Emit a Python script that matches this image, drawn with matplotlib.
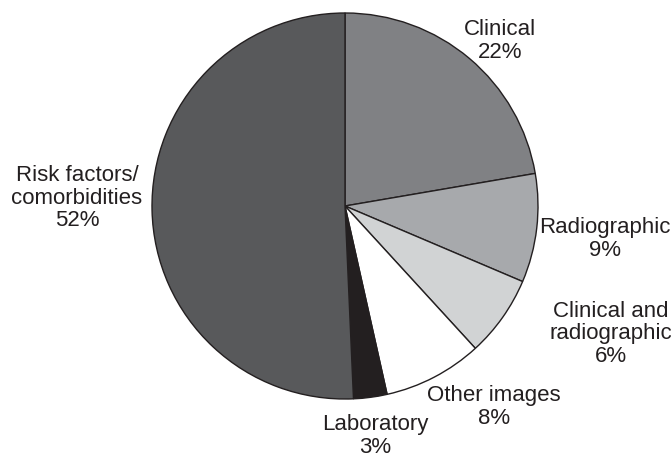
import matplotlib
matplotlib.use("Agg")
import matplotlib.pyplot as plt

# slice shares as drawn, clockwise from 12 o'clock
categories = ["Clinical", "Radiographic", "Clinical and\nradiographic",
              "Other images", "Laboratory", "Risk factors/\ncomorbidities"]
shares = [22.3, 9.1, 6.8, 8.3, 2.8, 50.7]
pct_labels = [22, 9, 6, 8, 3, 52]
colors = ["#808184", "#a7a9ac", "#d1d3d4", "#ffffff", "#231f20", "#58595b"]

# label centres in pixel coords (x from left, y from top)
label_pos = [(500, 41), (605, 239), (611, 334), (494, 407), (375, 436), (77, 198)]

W, H = 671, 455
fig = plt.figure(figsize=(W / 100, H / 100), dpi=100)
ax = fig.add_axes([0, 0, 1, 1])
ax.set_xlim(0, W)
ax.set_ylim(0, H)
ax.set_aspect("equal")
ax.axis("off")

ax.pie(shares, colors=colors, startangle=90, counterclock=False,
       center=(345, H - 206), radius=193, frame=True,
       wedgeprops=dict(edgecolor="#231f20", linewidth=1.0))
ax.set_xlim(0, W)
ax.set_ylim(0, H)
ax.axis("off")

for cat, pct, (x, y) in zip(categories, pct_labels, label_pos):
    ax.text(x, H - y, f"{cat}\n{pct}%", ha="center", va="center",
            multialignment="center", fontsize=16, linespacing=1.08,
            family="Liberation Sans", color="#231f20")

fig.savefig("out.png", dpi=100)
